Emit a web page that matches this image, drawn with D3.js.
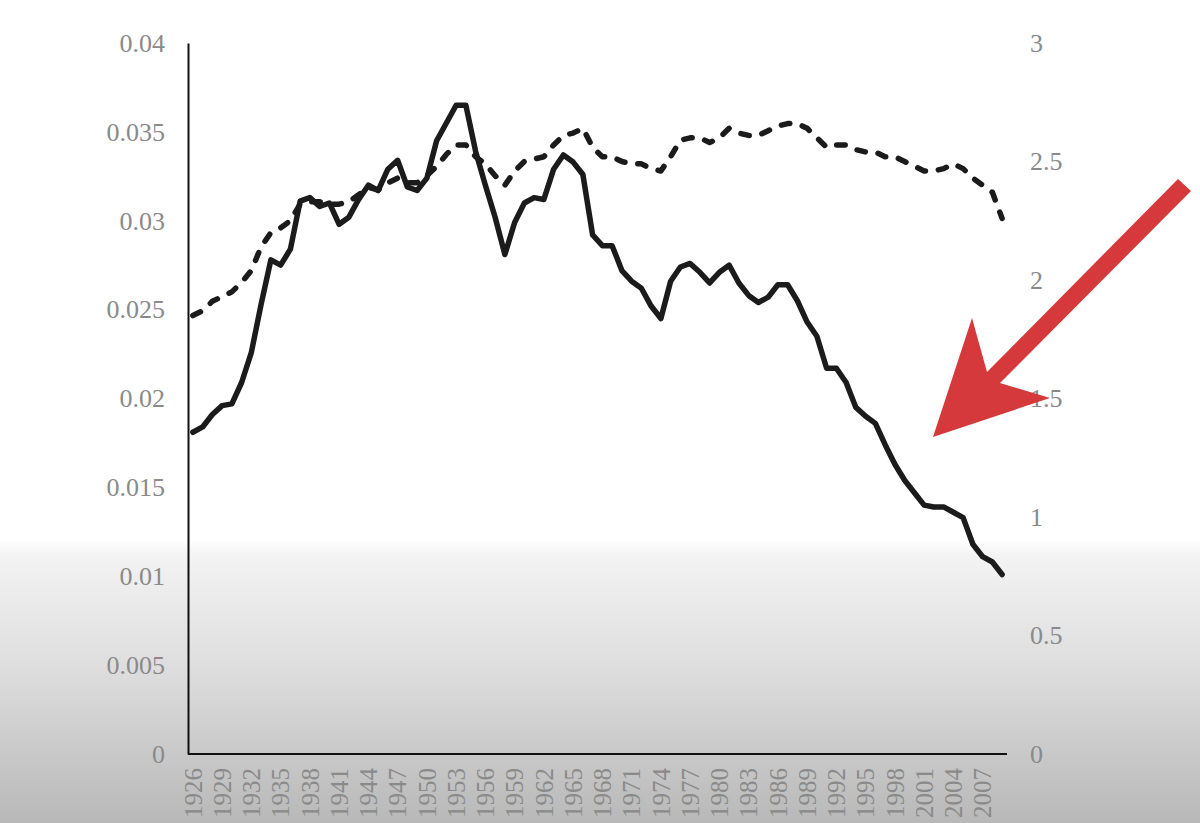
<!DOCTYPE html>
<html>
<head>
<meta charset="utf-8">
<script src="https://cdn.jsdelivr.net/npm/d3@7"></script>
<style>
  html, body { margin: 0; padding: 0; background: #fff; }
  svg { display: block; }
</style>
</head>
<body>
<script>
// categories: one point per year, 1926 - 2009
const years = d3.range(1926, 2010)

// solid line, left axis
const solidValues = [
  0.0181, 0.0184, 0.0191, 0.0196, 0.0197, 0.0209, 0.0226, 0.0253, 0.0278, 0.0275,
  0.0284, 0.0311, 0.0313, 0.0308, 0.0310, 0.0298, 0.0302, 0.0312, 0.0320, 0.0317,
  0.0329, 0.0334, 0.0319, 0.0317, 0.0324, 0.0345, 0.0355, 0.0365, 0.0365, 0.0339,
  0.0320, 0.0302, 0.0281, 0.0299, 0.0310, 0.0313, 0.0312, 0.0329, 0.0337, 0.0333,
  0.0326, 0.0292, 0.0286, 0.0286, 0.0272, 0.0266, 0.0262, 0.0252, 0.0245, 0.0266,
  0.0274, 0.0276, 0.0271, 0.0265, 0.0271, 0.0275, 0.0265, 0.0258, 0.0254, 0.0257,
  0.0264, 0.0264, 0.0255, 0.0243, 0.0235, 0.0217, 0.0217, 0.0209, 0.0195, 0.0190,
  0.0186, 0.0174, 0.0163, 0.0154, 0.0147, 0.0140, 0.0139, 0.0139, 0.0136, 0.0133,
  0.0118, 0.0111, 0.0108, 0.0101
]

// dashed line, right axis
const dashedValues = [
  1.85, 1.87, 1.91, 1.93, 1.95, 1.99, 2.04, 2.14, 2.20, 2.22,
  2.25, 2.32, 2.33, 2.33, 2.32, 2.32, 2.33, 2.36, 2.39, 2.38,
  2.41, 2.43, 2.41, 2.41, 2.44, 2.48, 2.53, 2.57, 2.57, 2.52,
  2.49, 2.44, 2.40, 2.46, 2.50, 2.51, 2.52, 2.57, 2.61, 2.62,
  2.64, 2.56, 2.52, 2.52, 2.50, 2.49, 2.49, 2.47, 2.46, 2.52,
  2.59, 2.60, 2.60, 2.58, 2.60, 2.64, 2.62, 2.61, 2.61, 2.63,
  2.65, 2.66, 2.66, 2.64, 2.60, 2.56, 2.57, 2.57, 2.55, 2.54,
  2.54, 2.52, 2.52, 2.50, 2.48, 2.46, 2.46, 2.47, 2.49, 2.47,
  2.43, 2.40, 2.37, 2.26
]

const leftTicks = [0, 0.005, 0.01, 0.015, 0.02, 0.025, 0.03, 0.035, 0.04]
const rightTicks = [0, 0.5, 1, 1.5, 2, 2.5, 3]
const yearLabels = years.filter(y => (y - 1926) % 3 === 0)

const width = 1200
const height = 823
const pad = { top: 43, bottom: 69, left: 188, right: 193 }

const svg = d3.select("body").append("svg")
    .attr("width", width)
    .attr("height", height)

// background: white fading to grey at the bottom
const defs = svg.append("defs")
const grad = defs.append("linearGradient")
    .attr("id", "bg")
    .attr("x1", 0).attr("y1", 0).attr("x2", 0).attr("y2", 1)
grad.append("stop").attr("offset", 0.655).attr("stop-color", "#ffffff")
grad.append("stop").attr("offset", 0.675).attr("stop-color", "#f3f3f3")
grad.append("stop").attr("offset", 0.82).attr("stop-color", "#dcdcdc")
grad.append("stop").attr("offset", 1).attr("stop-color", "#b8b8b8")
svg.append("rect").attr("width", width).attr("height", height).attr("fill", "url(#bg)")

const x = d3.scalePoint()
    .domain(years)
    .range([pad.left, width - pad.right])
    .padding(0.5)

const yLeft = d3.scaleLinear().domain([0, 0.04]).range([height - pad.bottom, pad.top])
const yRight = d3.scaleLinear().domain([0, 3]).range([height - pad.bottom, pad.top])

const labelColor = "#8a8a8a"
const fontFam = "'Liberation Serif', 'Times New Roman', serif"

// left axis
const fmtLeft = d => d === 0 ? "0" : String(+d.toFixed(3))
const gLeft = svg.append("g")
    .attr("transform", `translate(${pad.left},0)`)
    .call(d3.axisLeft(yLeft).tickValues(leftTicks).tickFormat(fmtLeft)
          .tickSize(0).tickSizeOuter(0).tickPadding(23))
gLeft.select(".domain").attr("stroke", "#111").attr("stroke-width", 2)
gLeft.selectAll("text")
    .attr("fill", labelColor)
    .style("font-family", fontFam)
    .style("font-size", "26px")

// right axis (labels only)
const gRight = svg.append("g")
    .attr("transform", `translate(${width - pad.right},0)`)
    .call(d3.axisRight(yRight).tickValues(rightTicks).tickFormat(d => String(d))
          .tickSize(0).tickSizeOuter(0).tickPadding(23))
gRight.select(".domain").remove()
gRight.selectAll("text")
    .attr("fill", labelColor)
    .style("font-family", fontFam)
    .style("font-size", "26px")

// x axis line
svg.append("line")
    .attr("x1", pad.left).attr("x2", width - pad.right)
    .attr("y1", yLeft(0)).attr("y2", yLeft(0))
    .attr("stroke", "#111").attr("stroke-width", 2)

// rotated year labels
svg.append("g").selectAll("text")
    .data(yearLabels)
    .join("text")
    .attr("transform", d => `translate(${x(d)},${yLeft(0) + 14}) rotate(-90)`)
    .attr("text-anchor", "end")
    .attr("dy", "0.35em")
    .attr("fill", labelColor)
    .style("font-family", fontFam)
    .style("font-size", "25px")
    .text(d => d)

// lines
const solidLine = d3.line()
    .x((d, i) => x(years[i]))
    .y(d => yLeft(d))
const dashedLine = d3.line()
    .x((d, i) => x(years[i]))
    .y(d => yRight(d))

svg.append("path")
    .datum(dashedValues)
    .attr("d", dashedLine)
    .attr("fill", "none")
    .attr("stroke", "#1b1b1b")
    .attr("stroke-width", 5.5)
    .attr("stroke-linecap", "round")
    .attr("stroke-linejoin", "round")
    .attr("stroke-dasharray", "8.5,13")

svg.append("path")
    .datum(solidValues)
    .attr("d", solidLine)
    .attr("fill", "none")
    .attr("stroke", "#1b1b1b")
    .attr("stroke-width", 5.5)
    .attr("stroke-linecap", "round")
    .attr("stroke-linejoin", "round")

// red arrow annotation (drawn over the right axis labels)
const arrowPoints = [
  [1178, 179], [1191, 191], [1000, 383], [1050, 398],
  [933, 437], [972, 318], [987, 372]
]
svg.append("path")
    .attr("d", d3.line()(arrowPoints) + "Z")
    .attr("fill", "#d6393b")
</script>
</body>
</html>
